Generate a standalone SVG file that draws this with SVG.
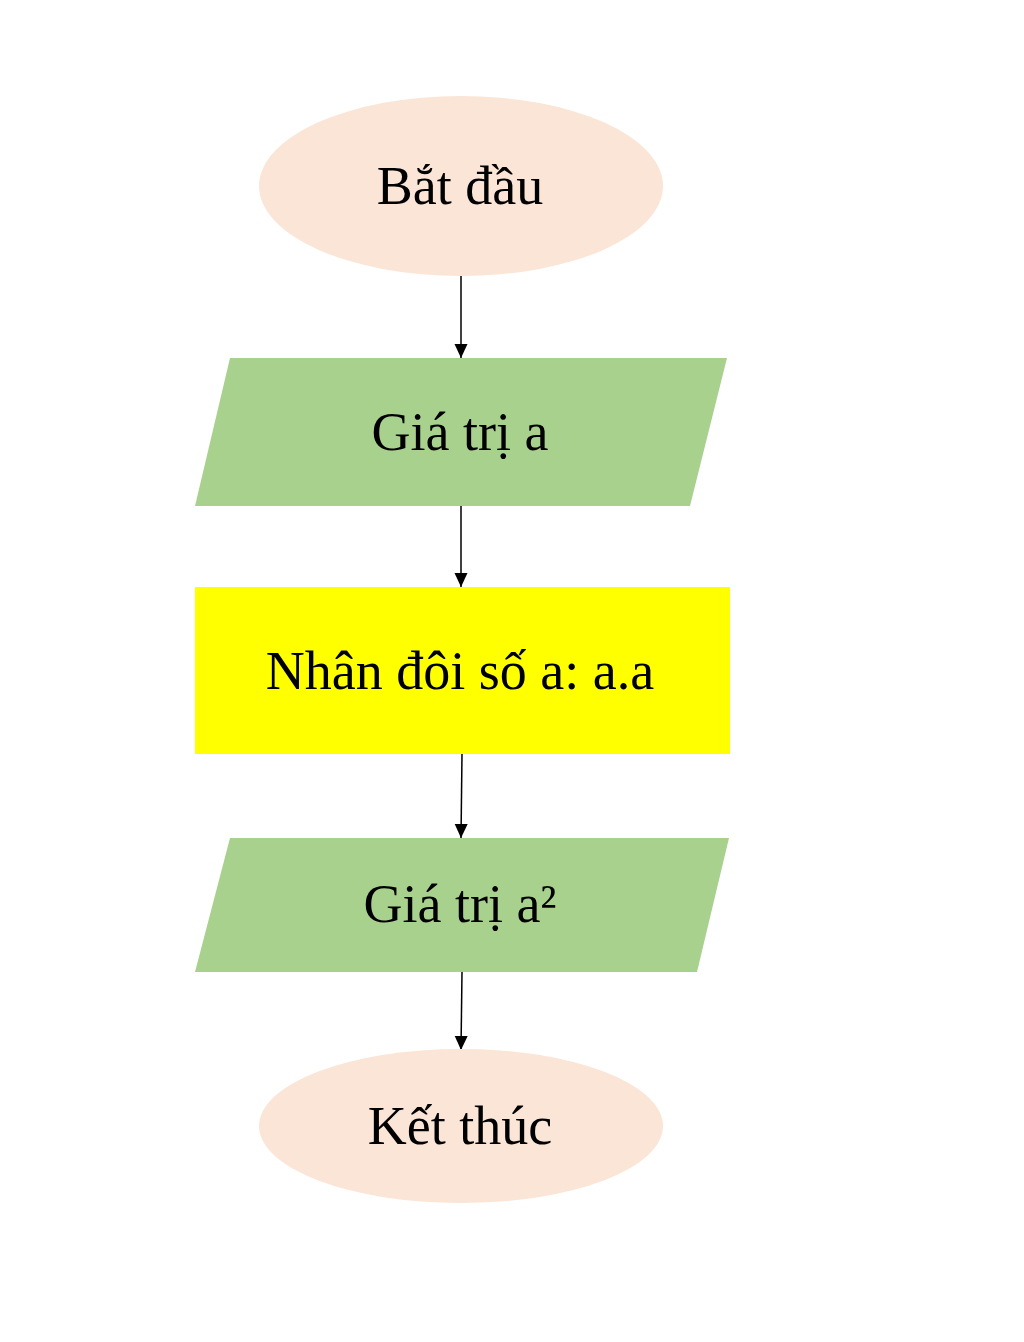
<svg xmlns="http://www.w3.org/2000/svg" width="1024" height="1342" viewBox="0 0 1024 1342">
<defs>
<style>
.term{fill:#FBE5D6;}
.io{fill:#A9D18E;}
.proc{fill:#FFFF00;}
.lbl{font-family:"Liberation Serif","Times New Roman",serif;font-size:54px;fill:#000;text-anchor:middle;}
.conn{stroke:#000;stroke-width:1.5;fill:none;marker-end:url(#ah);}
</style>
<marker id="ah" markerWidth="14" markerHeight="14" refX="14" refY="7" orient="auto" markerUnits="userSpaceOnUse">
<path d="M0,0.5 L14,7 L0,13.5 Z" fill="#000"/>
</marker>
</defs>
<rect width="1024" height="1342" fill="#fff"/>
<g id="connectors">
<line class="conn" x1="461" y1="276" x2="461" y2="358"/>
<line class="conn" x1="461" y1="506" x2="461" y2="587"/>
<line class="conn" x1="462" y1="754" x2="461" y2="838"/>
<line class="conn" x1="462" y1="972" x2="461" y2="1050"/>
</g>
<g id="start">
<ellipse class="term" cx="461" cy="186" rx="202" ry="90"/>
<text class="lbl" x="460" y="204">Bắt đầu</text>
</g>
<g id="input">
<polygon class="io" points="230,358 727,358 690,506 195,506"/>
<text class="lbl" x="460" y="450">Giá trị a</text>
</g>
<g id="process">
<rect class="proc" x="195" y="587" width="535" height="167"/>
<text class="lbl" x="460" y="689">Nhân đôi số a: a.a</text>
</g>
<g id="output">
<polygon class="io" points="230,838 729,838 697,972 195,972"/>
<text class="lbl" x="460" y="922">Giá trị a²</text>
</g>
<g id="end">
<ellipse class="term" cx="461" cy="1126" rx="202" ry="77"/>
<text class="lbl" x="460" y="1144">Kết thúc</text>
</g>
</svg>
